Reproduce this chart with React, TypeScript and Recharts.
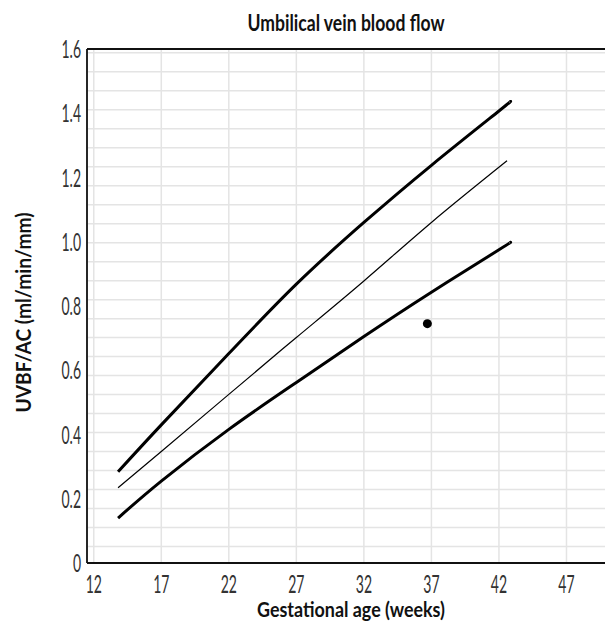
import React from "react";
import {
  LineChart,
  Line,
  XAxis,
  YAxis,
  CartesianGrid,
  ReferenceLine,
  Scatter,
} from "recharts";

// ---- data ----
const upperWeeks = [13.8, 17, 22, 27, 32, 37, 42, 42.8];
const upperValues = [0.284, 0.43, 0.652, 0.868, 1.06, 1.238, 1.407, 1.435];

const meanWeeks = [13.8, 17, 22, 27, 32, 37, 42.6];
const meanValues = [0.234, 0.347, 0.525, 0.702, 0.878, 1.06, 1.252];

const lowerWeeks = [13.8, 17, 22, 27, 32, 37, 42, 42.8];
const lowerValues = [0.14, 0.255, 0.416, 0.562, 0.705, 0.843, 0.975, 0.997];

const patientWeeks = [36.7];
const patientValues = [0.745];

const xTicks = [12, 17, 22, 27, 32, 37, 42, 47];
const yTicks = [0, 0.2, 0.4, 0.6, 0.8, 1.0, 1.2, 1.4, 1.6];

const title = "Umbilical vein blood flow";
const xLabel = "Gestational age (weeks)";
const yLabel = "UVBF/AC (ml/min/mm)";

// ---- helpers ----
const toPoints = (xs: number[], ys: number[]) =>
  xs.map((x, i) => ({ x, y: ys[i] }));

const upper = toPoints(upperWeeks, upperValues);
const mean = toPoints(meanWeeks, meanValues);
const lower = toPoints(lowerWeeks, lowerValues);
const patient = toPoints(patientWeeks, patientValues);

// fine background grid (styling only)
const minorGrid: number[] = [];
for (let k = 0; k < 27; k++) minorGrid.push(+(0.0515 + k * 0.0591).toFixed(4));

const FONT = "Lato, 'Open Sans', 'DejaVu Sans', sans-serif";
const GRID = "#e4e4e4";
const SQUEEZE = 0.56;
const TICK_SIZE = 25;

const fmtY = (v: number) => (v === 0 ? "0" : v.toFixed(1));

const XTick = (props: any) => {
  const { x, y, payload } = props;
  return (
    <text
      transform={`translate(${x},${y}) scale(${SQUEEZE},1)`}
      textAnchor="middle"
      dy="0.72em"
      fill="#333"
      fontFamily={FONT}
      fontWeight={400}
      style={{ fontSize: TICK_SIZE }}
    >
      {String(payload.value)}
    </text>
  );
};

const YTick = (props: any) => {
  const { x, y, payload } = props;
  return (
    <text
      transform={`translate(${x},${y}) scale(${SQUEEZE},1)`}
      textAnchor="end"
      dy="0.36em"
      fill="#333"
      fontFamily={FONT}
      fontWeight={400}
      style={{ fontSize: TICK_SIZE }}
    >
      {fmtY(payload.value)}
    </text>
  );
};

export default function App() {
  return (
    <div
      style={{
        position: "absolute",
        left: 0,
        top: 0,
        width: 605,
        height: 621,
        overflow: "hidden",
        background: "#fff",
      }}
    >
      <LineChart
        width={620}
        height={621}
        margin={{ top: 49, right: 13, bottom: 0, left: 0 }}
        style={{ position: "absolute", left: 0, top: 0 }}
      >
        <CartesianGrid
          horizontal={false}
          vertical={true}
          stroke={GRID}
          strokeWidth={1.5}
        />
        {minorGrid.map((v) => (
          <ReferenceLine
            key={v}
            y={v}
            stroke={GRID}
            strokeWidth={1.5}
            ifOverflow="extendDomain"
          />
        ))}
        <XAxis
          type="number"
          dataKey="x"
          domain={[11.5, 50]}
          ticks={xTicks}
          allowDataOverflow
          height={58}
          tickLine={false}
          tickSize={6}
          tickMargin={6}
          axisLine={{ stroke: "#111", strokeWidth: 1.8 }}
          tick={<XTick />}
        />
        <YAxis
          type="number"
          dataKey="y"
          domain={[0, 1.6]}
          ticks={yTicks}
          allowDataOverflow
          width={87}
          tickLine={false}
          tickSize={3}
          tickMargin={3}
          axisLine={{ stroke: "#111", strokeWidth: 1.8 }}
          tick={<YTick />}
        />
        <ReferenceLine y={1.6} stroke="#111" strokeWidth={2} />
        <Line
          data={upper}
          dataKey="y"
          type="natural"
          stroke="#000"
          strokeWidth={3}
          dot={false}
          activeDot={false}
          isAnimationActive={false}
        />
        <Line
          data={mean}
          dataKey="y"
          type="natural"
          stroke="#000"
          strokeWidth={1.2}
          dot={false}
          activeDot={false}
          isAnimationActive={false}
        />
        <Line
          data={lower}
          dataKey="y"
          type="natural"
          stroke="#000"
          strokeWidth={3}
          dot={false}
          activeDot={false}
          isAnimationActive={false}
        />
        <Scatter
          data={patient}
          dataKey="y"
          fill="#000"
          shape={(p: any) => <circle cx={p.cx} cy={p.cy} r={4.5} fill="#000" />}
          isAnimationActive={false}
        />
      </LineChart>
      <svg
        width={605}
        height={621}
        style={{ position: "absolute", left: 0, top: 0, pointerEvents: "none" }}
      >
        <text
          x={346}
          y={31}
          textAnchor="middle"
          fontFamily={FONT}
          fontWeight={700}
          fontSize={22}
          fill="#111"
          textLength={197}
          lengthAdjust="spacingAndGlyphs"
        >
          {title}
        </text>
        <text
          x={351}
          y={617}
          textAnchor="middle"
          fontFamily={FONT}
          fontWeight={700}
          fontSize={21}
          fill="#111"
          textLength={188}
          lengthAdjust="spacingAndGlyphs"
        >
          {xLabel}
        </text>
        <text
          transform="translate(30.5,312.5) rotate(-90)"
          x={0}
          y={0}
          textAnchor="middle"
          fontFamily={FONT}
          fontWeight={700}
          fontSize={21}
          fill="#111"
          textLength={200}
          lengthAdjust="spacingAndGlyphs"
        >
          {yLabel}
        </text>
      </svg>
    </div>
  );
}
